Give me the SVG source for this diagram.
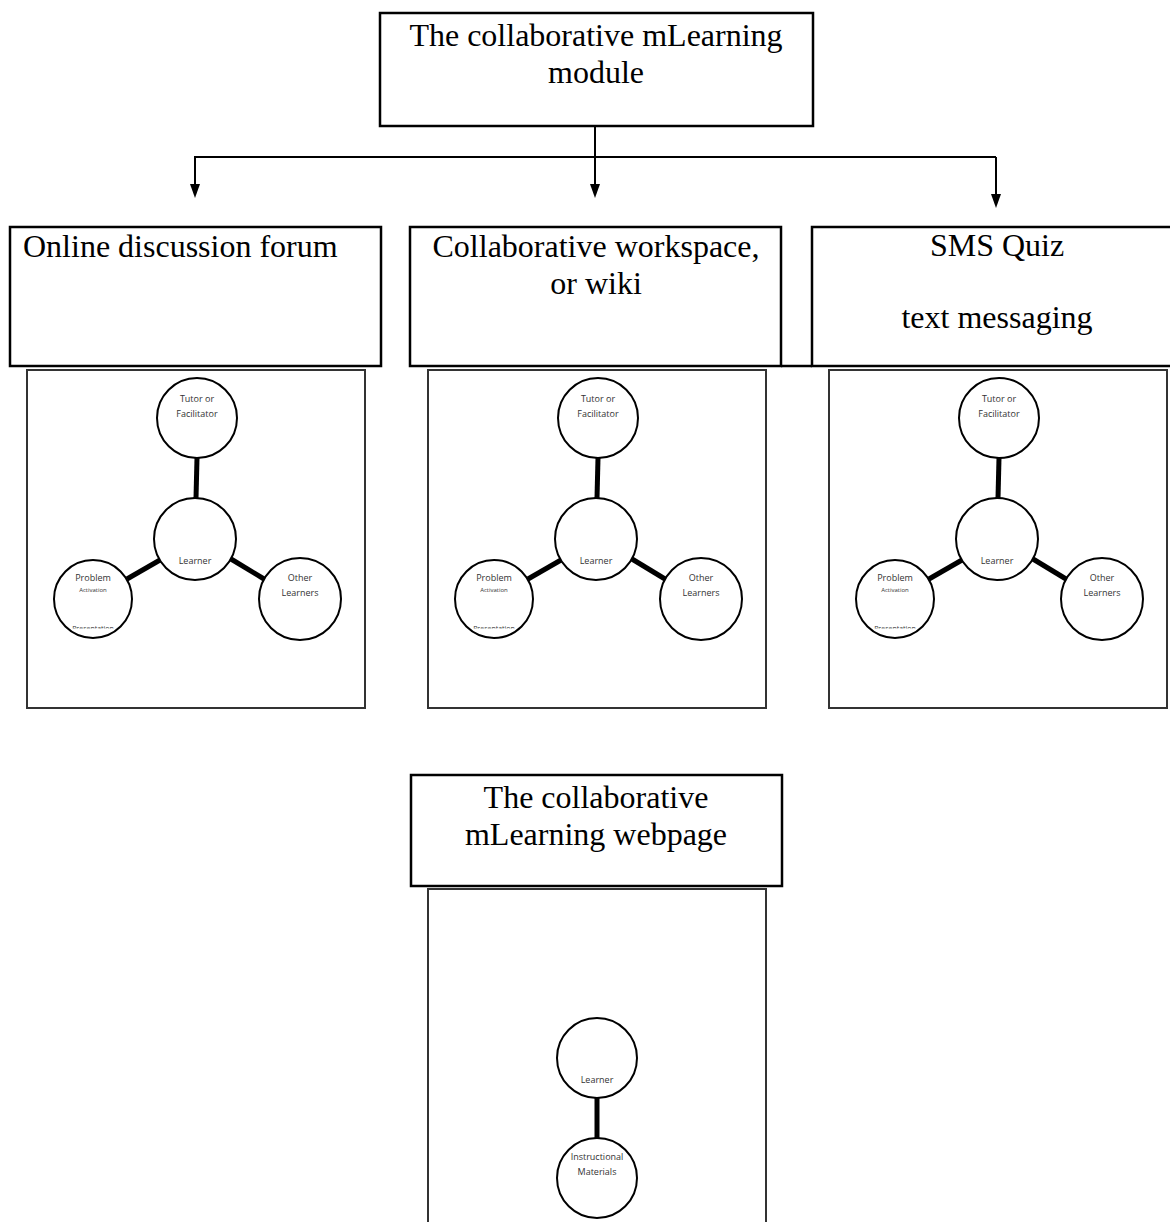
<svg xmlns="http://www.w3.org/2000/svg" width="1170" height="1222" viewBox="0 0 1170 1222">
<style>
.box{fill:#fff;stroke:#000;stroke-width:2.5}
.inner{fill:#fff;stroke:#333;stroke-width:2}
.big{font-family:"Liberation Serif","Times New Roman",serif;font-size:32px;fill:#000}
.c{text-anchor:middle}
.circ{fill:#fff;stroke:#000;stroke-width:2}
.sm{font-family:"Open Sans","Liberation Sans",Arial,sans-serif;font-size:9px;fill:#333;text-anchor:middle}
.xs{font-family:"Open Sans","Liberation Sans",Arial,sans-serif;font-size:6px;fill:#333;text-anchor:middle}
.pres{font-family:"Open Sans","Liberation Sans",Arial,sans-serif;font-size:7px;fill:#333;text-anchor:middle}
.thick{stroke:#000;stroke-width:5;fill:none}
.conn{stroke:#000;stroke-width:2;fill:none}
.head{fill:#000}
</style>
<defs>
<clipPath id="probClip" clipPathUnits="userSpaceOnUse"><rect x="0" y="0" width="338" height="258.5"/></clipPath>
<g id="triad">
<rect class="inner" x="0" y="0" width="338" height="338"/>
<line class="thick" x1="170" y1="88" x2="169" y2="128"/>
<line class="thick" x1="133" y1="190" x2="100" y2="209"/>
<line class="thick" x1="204" y1="189" x2="237" y2="209"/>
<circle class="circ" cx="170" cy="48" r="40"/>
<text class="sm" x="170" y="32">Tutor or</text>
<text class="sm" x="170" y="47">Facilitator</text>
<circle class="circ" cx="168" cy="169" r="41"/>
<text class="sm" x="168" y="194">Learner</text>
<circle class="circ" cx="66" cy="229" r="39"/>
<text class="sm" x="66" y="211">Problem</text>
<text class="xs" x="66" y="222">Activation</text>
<text class="pres" x="66" y="260.5" clip-path="url(#probClip)">Presentation</text>
<circle class="circ" cx="273" cy="229" r="41"/>
<text class="sm" x="273" y="211">Other</text>
<text class="sm" x="273" y="226">Learners</text>
</g>
</defs>

<g id="connectors">
<line class="conn" x1="595" y1="126" x2="595" y2="157"/>
<line class="conn" x1="194" y1="157" x2="996" y2="157"/>
<path class="conn" d="M195,157 V186"/>
<path class="head" d="M190,184 L200,184 L195,198 Z"/>
<path class="conn" d="M595,157 V186"/>
<path class="head" d="M590,184 L600,184 L595,198 Z"/>
<path class="conn" d="M996,157 V196"/>
<path class="head" d="M991,194 L1001,194 L996,208 Z"/>
</g>

<g id="module">
<rect class="box" x="380" y="13" width="433" height="113"/>
<text class="big c" x="596" y="46">The collaborative mLearning</text>
<text class="big c" x="596" y="83">module</text>
</g>

<g id="forum">
<rect class="box" x="10" y="227" width="371" height="139"/>
<text class="big" x="23" y="257">Online discussion forum</text>
</g>
<g id="wiki">
<rect class="box" x="410" y="227" width="371" height="139"/>
<text class="big c" x="596" y="257">Collaborative workspace,</text>
<text class="big c" x="596" y="294">or wiki</text>
</g>
<line class="box" x1="781" y1="366" x2="812" y2="366"/>
<g id="sms">
<rect class="box" x="812" y="227" width="370" height="139"/>
<text class="big c" x="997" y="256">SMS Quiz</text>
<text class="big c" x="997" y="328">text messaging</text>
</g>

<g id="triad1" transform="translate(27,370)"><use href="#triad"/></g>
<g id="triad2" transform="translate(428,370)"><use href="#triad"/></g>
<g id="triad3" transform="translate(829,370)"><use href="#triad"/></g>

<g id="webpage">
<rect class="box" x="411" y="775" width="371" height="111"/>
<text class="big c" x="596" y="808">The collaborative</text>
<text class="big c" x="596" y="845">mLearning webpage</text>
</g>
<g id="webpage-diagram">
<rect class="inner" x="428" y="889" width="338" height="345"/>
<line class="thick" x1="597" y1="1098" x2="597" y2="1138"/>
<circle class="circ" cx="597" cy="1058" r="40"/>
<text class="sm" x="597" y="1083">Learner</text>
<circle class="circ" cx="597" cy="1178" r="40"/>
<text class="sm" x="597" y="1160">Instructional</text>
<text class="sm" x="597" y="1175">Materials</text>
</g>
</svg>
